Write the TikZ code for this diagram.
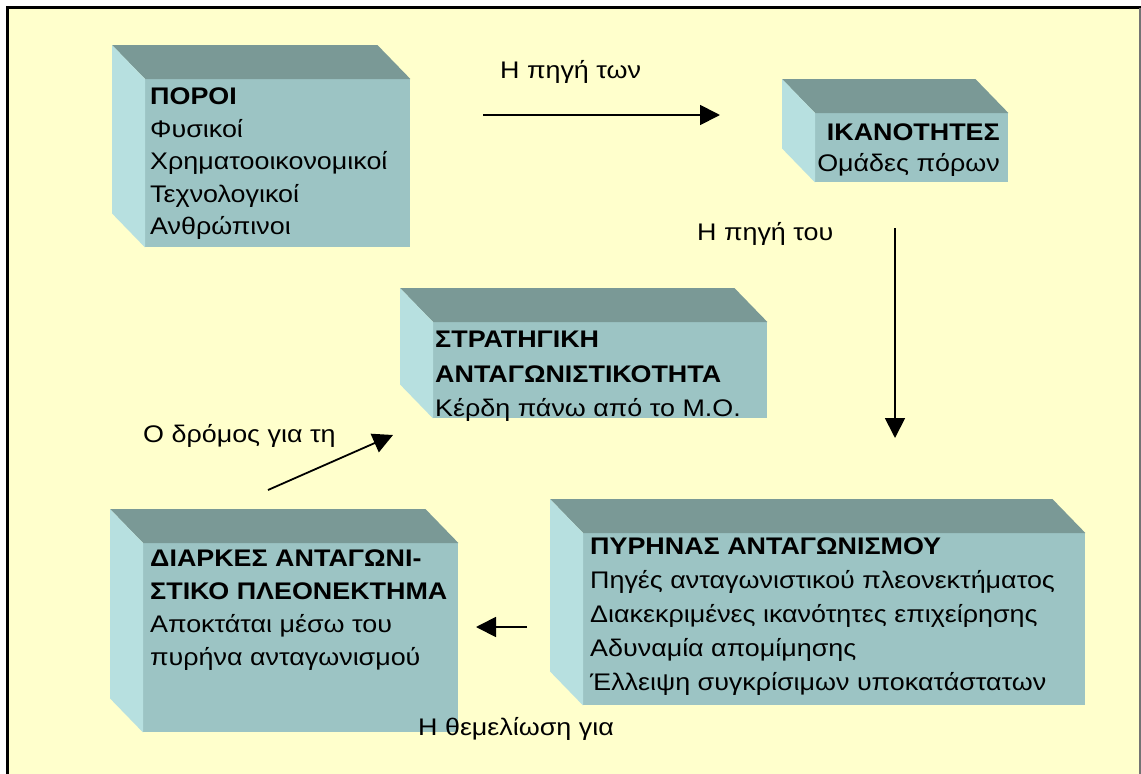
\documentclass[tikz,border=0pt]{standalone}
\usepackage{fontspec}
\setmainfont[FakeStretch=1.12]{Liberation Sans}
\usetikzlibrary{arrows.meta}

\definecolor{paper}{RGB}{255,255,204}
\definecolor{facefront}{RGB}{156,196,196}
\definecolor{facetop}{RGB}{122,153,150}
\definecolor{faceside}{RGB}{183,224,224}

\tikzset{%
  % Specifications for the boxes and their texts:
         front/.style   = { rectangle, fill=facefront, inner sep=0pt, anchor=north west },
         boxtext/.style = { inner sep=0pt, anchor=north west, align=left, font=\fontsize{24}{33}\selectfont },
         linktext/.style= { inner sep=0pt, anchor=base west, font=\fontsize{24}{33}\selectfont },
         arrow/.style   = { -{Triangle[length=20pt,width=20pt]}, line width=1.8pt },
}

% top and left faces of a box, drawn behind its front face
\newcommand{\boxsides}[1]{%
  \fill[facetop]  (#1.north west) -- ++(-33,-34) -- ([shift={(-33,-34)}]#1.north east) -- (#1.north east) -- cycle;
  \fill[faceside] (#1.north west) -- ++(-33,-34) -- ([shift={(-33,-34)}]#1.south west) -- (#1.south west) -- cycle;
}

\begin{document}
\begin{tikzpicture}[x=1pt, y=-1pt]
    \useasboundingbox (0,0) rectangle (1141,774);
    % Frame
    \fill[paper] (7.5,7.5) rectangle (1141,774);
    \draw[line width=3pt] (7.5,774) -- (7.5,7.5) -- (1141,7.5);
    \draw[line width=2pt, black!55] (1140,7.5) -- (1140,774);

    % Draw boxes
    \node (poroi)   [front, minimum width=265pt, minimum height=168pt] at (145,79)  {};
    \node (ikanot)  [front, minimum width=193pt, minimum height=69pt]  at (815,113) {};
    \node (strat)   [front, minimum width=334pt, minimum height=96pt]  at (433,322) {};
    \node (pyrhnas) [front, minimum width=502pt, minimum height=172pt] at (583,533) {};
    \node (diarkes) [front, minimum width=315pt, minimum height=189pt] at (143,543) {};
    \boxsides{poroi}
    \boxsides{ikanot}
    \boxsides{strat}
    \boxsides{pyrhnas}
    \boxsides{diarkes}

    % Draw texts
    \node (poroi-text)   [boxtext, font=\fontsize{24}{32.5}\selectfont] at (150,88)
        {\textbf{ΠΟΡΟΙ}\\Φυσικοί\\Χρηματοοικονομικοί\\Τεχνολογικοί\\Ανθρώπινοι};
    \node (ikanot-text)  [boxtext, anchor=north east, align=right, font=\fontsize{24}{31}\selectfont] at (1000,124)
        {\textbf{ΙΚΑΝΟΤΗΤΕΣ}\\Ομάδες πόρων};
    \node (strat-text)   [boxtext, font=\fontsize{24}{34.5}\selectfont] at (435,331)
        {\textbf{ΣΤΡΑΤΗΓΙΚΗ}\\\textbf{ΑΝΤΑΓΩΝΙΣΤΙΚΟΤΗΤΑ}\\Κέρδη πάνω από το Μ.Ο.};
    \node (pyrhnas-text) [boxtext, font=\fontsize{24}{34}\selectfont] at (590,538)
        {\textbf{ΠΥΡΗΝΑΣ ΑΝΤΑΓΩΝΙΣΜΟΥ}\\Πηγές ανταγωνιστικού πλεονεκτήματος\\Διακεκριμένες ικανότητες επιχείρησης\\Αδυναμία απομίμησης\\Έλλειψη συγκρίσιμων υποκατάστατων};
    \node (diarkes-text) [boxtext] at (150,550)
        {\textbf{ΔΙΑΡΚΕΣ ΑΝΤΑΓΩΝΙ-}\\\textbf{ΣΤΙΚΟ ΠΛΕΟΝΕΚΤΗΜΑ}\\Αποκτάται μέσω του\\πυρήνα ανταγωνισμού};

    % Draw labels
    \node (label-a) [linktext] at (500,78)  {Η πηγή των};
    \node (label-b) [linktext] at (697,240) {Η πηγή του};
    \node (label-c) [linktext] at (143,442) {Ο δρόμος για τη};
    \node (label-d) [linktext] at (418,735) {Η θεμελίωση για};

    % Draw arrows
    \coordinate (a-from) at (483,115);  \coordinate (a-to) at (720,115);
    \coordinate (b-from) at (895,228);  \coordinate (b-to) at (895,438);
    \coordinate (c-from) at (268,490);  \coordinate (c-to) at (393,435);
    \coordinate (d-from) at (527,627);  \coordinate (d-to) at (476,627);
    \draw[arrow] (a-from) -- (a-to);
    \draw[arrow] (b-from) -- (b-to);
    \draw[arrow] (c-from) -- (c-to);
    \draw[arrow] (d-from) -- (d-to);
\end{tikzpicture}
\end{document}
